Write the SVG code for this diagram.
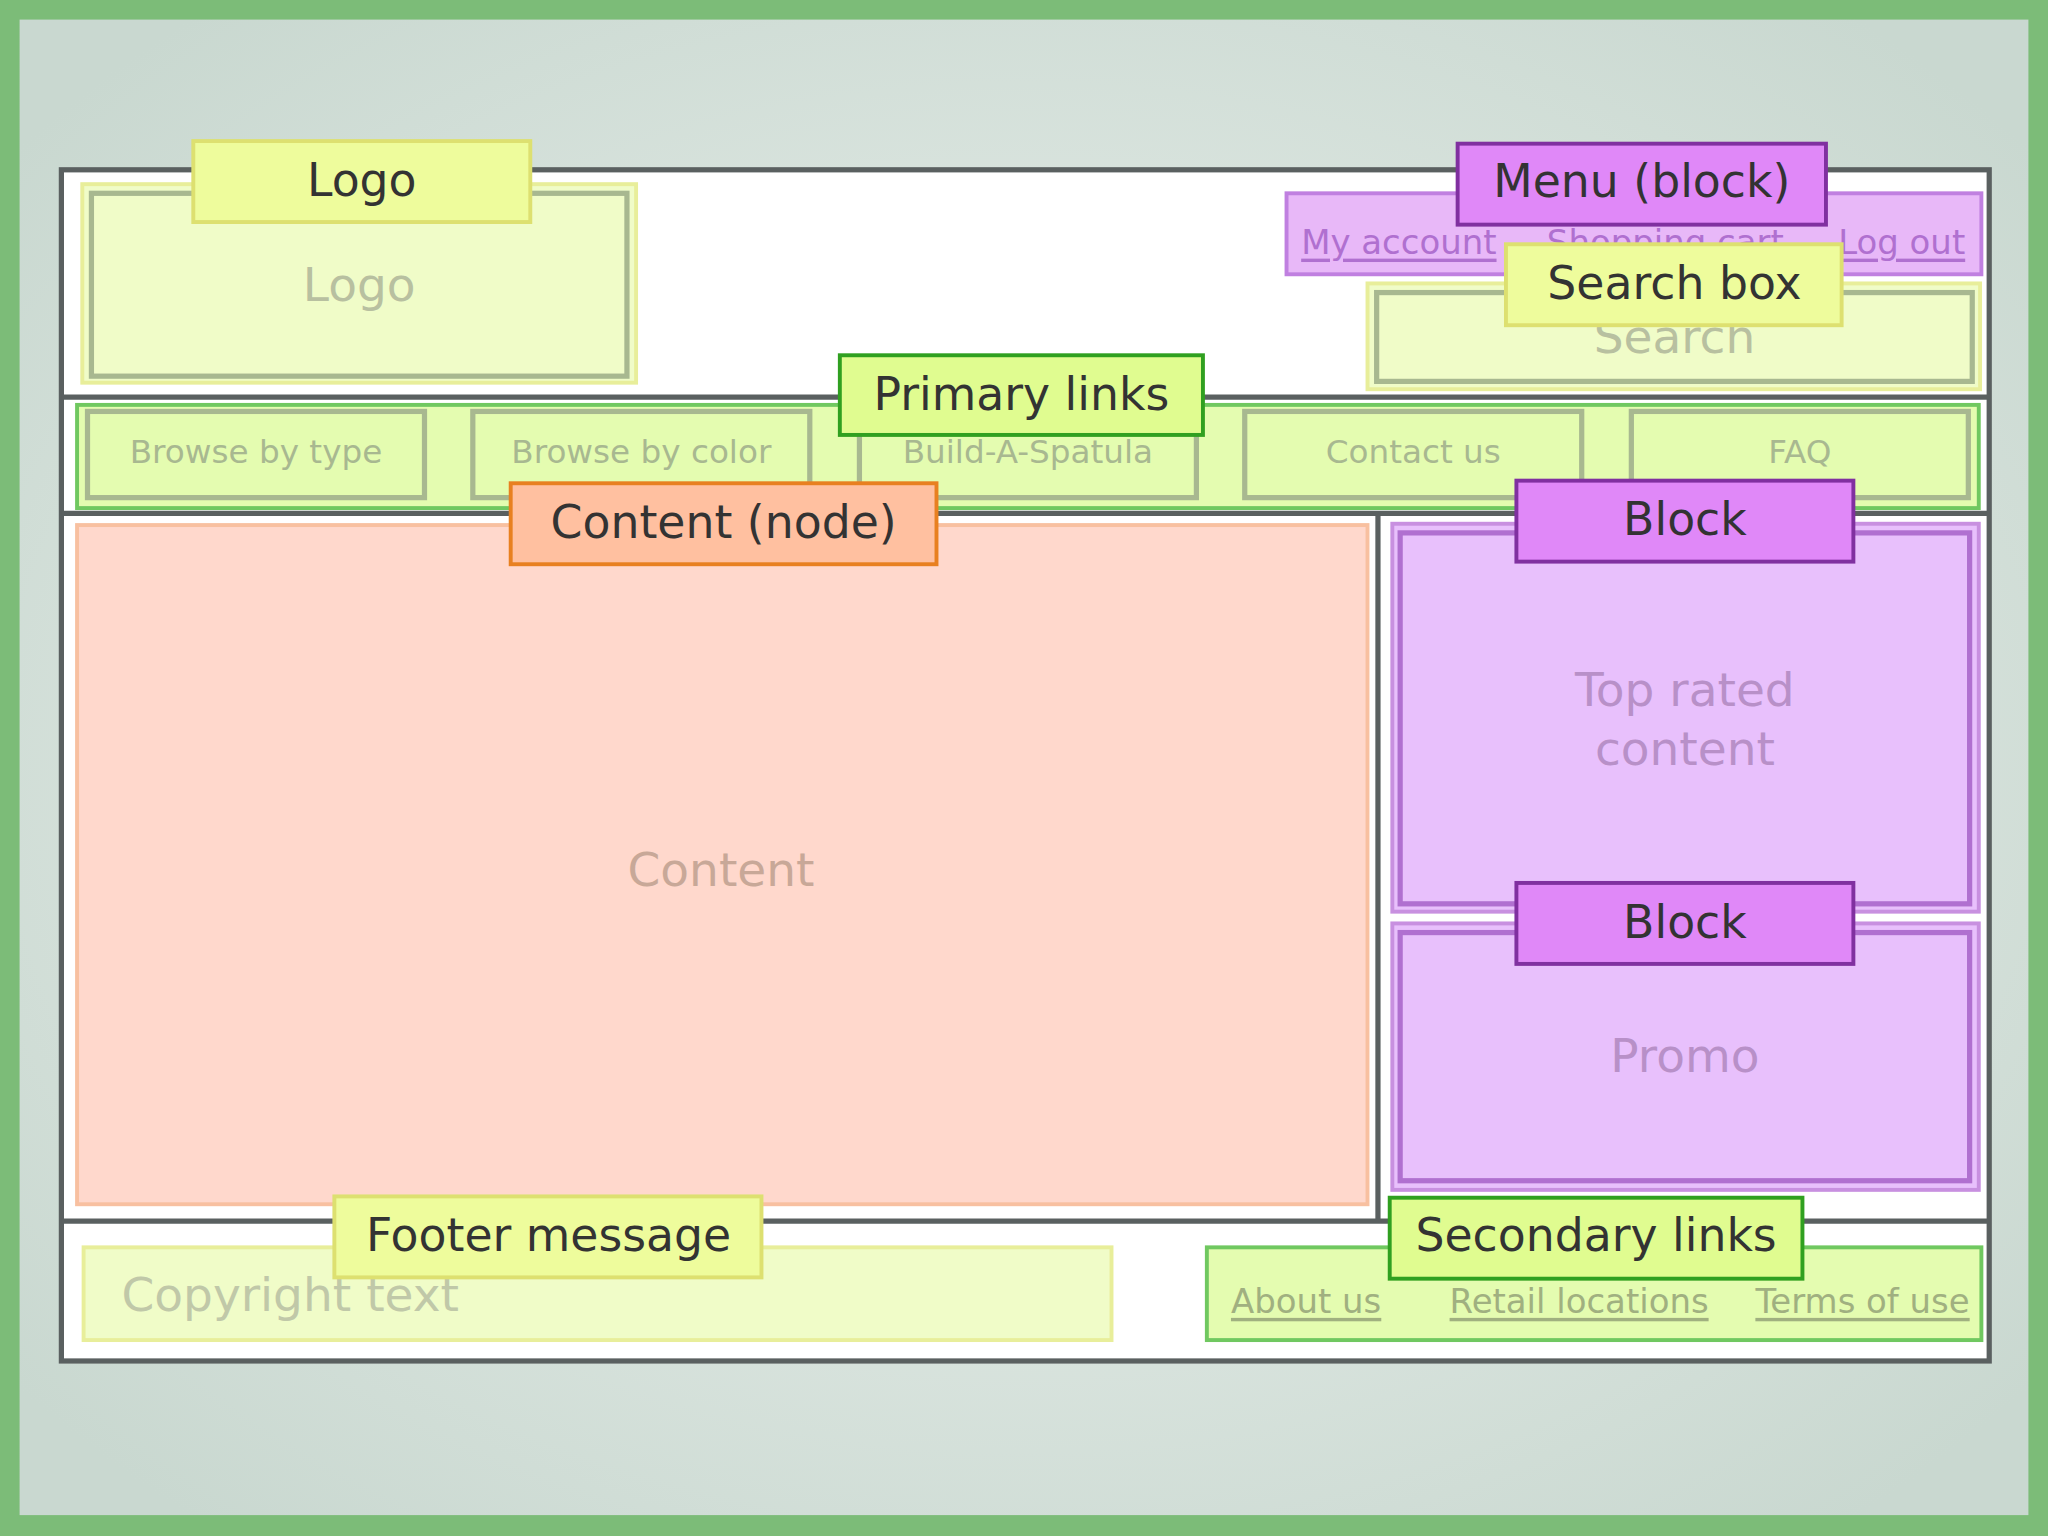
<svg xmlns="http://www.w3.org/2000/svg" width="2048" height="1536" viewBox="0 0 2048 1536">
<defs>
<radialGradient id="bg" cx="50%" cy="50%" r="65%"><stop offset="0" stop-color="#eef3f0"/><stop offset="1" stop-color="#c9d8d0"/></radialGradient>
<style>
text{font-family:"DejaVu Sans","Open Sans",sans-serif;text-anchor:middle;dominant-baseline:central}
.lbl{font-size:35px;fill:#333}
.ph{font-size:36px;fill:#b8c0a0}
.nav{font-size:25px;fill:#a8b890}
.lnk{font-size:26px;text-decoration:underline}
.yl{fill:#eefc9c;stroke:#dde070;stroke-width:3}
.pl{fill:#e088f8;stroke:#8030a0;stroke-width:3}
.gl{fill:#e0fc90;stroke:#30a020;stroke-width:3}
.ol{fill:#ffc0a0;stroke:#e88020;stroke-width:3}
.ly{fill:#f0fcc8;stroke:#e8ee9a;stroke-width:3}
.in{fill:none;stroke:#a8b890;stroke-width:4}
.pin{fill:none;stroke:#b070d0;stroke-width:4}
.fr{stroke:#5a6060;stroke-width:4;fill:none}
</style>
</defs>
<g transform="scale(1.30612)">
<rect width="1568" height="1176" fill="#7cbc78"/>
<rect x="15" y="15" width="1538" height="1145" fill="url(#bg)"/>
<g id="frame">
<rect x="47" y="130" width="1476" height="912" class="fr" style="fill:#fff"/>
<line x1="47" y1="304" x2="1523" y2="304" class="fr"/>
<line x1="47" y1="393" x2="1523" y2="393" class="fr"/>
<line x1="1055" y1="393" x2="1055" y2="935" class="fr"/>
<line x1="47" y1="935" x2="1523" y2="935" class="fr"/>
</g>
<g id="logo">
<rect x="63" y="141" width="424" height="152" class="ly"/>
<rect x="70" y="148" width="410" height="140" class="in"/>
<text x="275" y="218" class="ph">Logo</text>
</g>
<g id="menu">
<rect x="985" y="148" width="532" height="62" fill="#e8b8f8" stroke="#c080e0" stroke-width="3"/>
<text x="1071" y="185" class="lnk" fill="#b070d0">My account</text>
<text x="1275" y="185" class="lnk" fill="#b070d0">Shopping cart</text>
<text x="1456" y="185" class="lnk" fill="#b070d0">Log out</text>
</g>
<g id="search">
<rect x="1047" y="217" width="469" height="81" class="ly"/>
<rect x="1054" y="224" width="456" height="68" class="in"/>
<text x="1282" y="258" class="ph">Search</text>
</g>
<g id="nav">
<rect x="59" y="310" width="1456" height="79" fill="#e4fcb0" stroke="#70c860" stroke-width="3"/>
<rect x="67" y="315" width="258" height="66" class="in"/>
<rect x="362" y="315" width="258" height="66" class="in"/>
<rect x="658" y="315" width="258" height="66" class="in"/>
<rect x="953" y="315" width="258" height="66" class="in"/>
<rect x="1249" y="315" width="258" height="66" class="in"/>
<text x="196" y="346" class="nav">Browse by type</text>
<text x="491" y="346" class="nav">Browse by color</text>
<text x="787" y="346" class="nav">Build-A-Spatula</text>
<text x="1082" y="346" class="nav">Contact us</text>
<text x="1378" y="346" class="nav">FAQ</text>
</g>
<g id="content">
<rect x="59" y="402" width="988" height="520" fill="#ffd8cc" stroke="#f8c0a0" stroke-width="3"/>
<text x="552" y="666" class="ph" style="fill:#c8a898">Content</text>
</g>
<g id="block1">
<rect x="1066" y="401" width="449" height="297" fill="#e8c0fc" stroke="#c890e0" stroke-width="3"/>
<rect x="1072" y="408" width="436" height="284" class="pin"/>
<text x="1290" y="528" class="ph" style="fill:#b890c8">Top rated</text>
<text x="1290" y="573" class="ph" style="fill:#b890c8">content</text>
</g>
<g id="block2">
<rect x="1066" y="707" width="449" height="204" fill="#e8c0fc" stroke="#c890e0" stroke-width="3"/>
<rect x="1072" y="714" width="436" height="190" class="pin"/>
<text x="1290" y="808" class="ph" style="fill:#b890c8">Promo</text>
</g>
<g id="footer">
<rect x="64" y="955" width="787" height="71" class="ly"/>
<text x="93" y="991" class="ph" style="text-anchor:start;fill:#c0c8a8">Copyright text</text>
</g>
<g id="secondary">
<rect x="924" y="955" width="593" height="71" fill="#e4fcb0" stroke="#70c860" stroke-width="3"/>
<text x="1000" y="996" class="lnk" fill="#a0b080">About us</text>
<text x="1209" y="996" class="lnk" fill="#a0b080">Retail locations</text>
<text x="1426" y="996" class="lnk" fill="#a0b080">Terms of use</text>
</g>
<g id="labels">
<rect x="148" y="108" width="258" height="62" class="yl"/><text x="277" y="138" class="lbl">Logo</text>
<rect x="1116" y="110" width="282" height="62" class="pl"/><text x="1257" y="139" class="lbl">Menu (block)</text>
<rect x="1153" y="187" width="257" height="62" class="yl"/><text x="1282" y="217" class="lbl">Search box</text>
<rect x="643" y="272" width="278" height="61" class="gl"/><text x="782" y="302" class="lbl">Primary links</text>
<rect x="391" y="370" width="326" height="62" class="ol"/><text x="554" y="400" class="lbl">Content (node)</text>
<rect x="1161" y="368" width="258" height="62" class="pl"/><text x="1290" y="398" class="lbl">Block</text>
<rect x="1161" y="676" width="258" height="62" class="pl"/><text x="1290" y="706" class="lbl">Block</text>
<rect x="256" y="916" width="327" height="62" class="yl"/><text x="420" y="946" class="lbl">Footer message</text>
<rect x="1064" y="917" width="316" height="62" class="gl"/><text x="1222" y="946" class="lbl">Secondary links</text>
</g>
</g>
</svg>
